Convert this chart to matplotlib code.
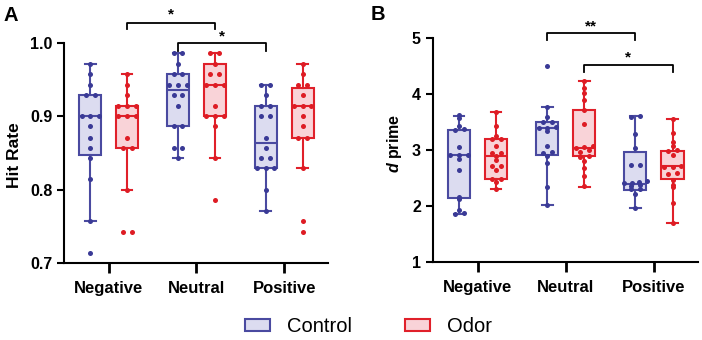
import matplotlib
matplotlib.use('Agg')
import matplotlib.pyplot as plt
from matplotlib.patches import Patch
import numpy as np

plt.rcParams['font.family'] = ['Liberation Sans', 'DejaVu Sans']
plt.rcParams['mathtext.fontset'] = 'custom'
plt.rcParams['mathtext.it'] = 'Liberation Sans:italic:bold'

categories = ['Negative', 'Neutral', 'Positive']
groups = ['Control', 'Odor']

# panel A, hit rate points (order: NegC, NegO, NeuC, NeuO, PosC, PosO)
hit_points = [
    [0.971, 0.957, 0.943, 0.929, 0.929, 0.900, 0.900, 0.900, 0.886, 0.871, 0.857, 0.843, 0.814, 0.757, 0.714],
    [0.957, 0.943, 0.929, 0.914, 0.914, 0.914, 0.900, 0.900, 0.900, 0.871, 0.857, 0.857, 0.800, 0.743, 0.743],
    [0.986, 0.986, 0.971, 0.957, 0.957, 0.943, 0.943, 0.943, 0.929, 0.929, 0.914, 0.886, 0.886, 0.857, 0.857, 0.843],
    [0.986, 0.986, 0.971, 0.957, 0.957, 0.943, 0.943, 0.943, 0.914, 0.900, 0.900, 0.900, 0.886, 0.843, 0.786],
    [0.943, 0.943, 0.929, 0.914, 0.914, 0.900, 0.900, 0.871, 0.857, 0.843, 0.843, 0.829, 0.829, 0.829, 0.800, 0.771],
    [0.971, 0.957, 0.943, 0.943, 0.929, 0.914, 0.914, 0.914, 0.900, 0.886, 0.871, 0.871, 0.829, 0.757, 0.743],
]
hit_q1 = [0.847, 0.857, 0.886, 0.900, 0.829, 0.871]
hit_med = [0.900, 0.900, 0.936, 0.943, 0.864, 0.914]
hit_q3 = [0.929, 0.914, 0.957, 0.971, 0.914, 0.938]
hit_lo = [0.757, 0.800, 0.843, 0.843, 0.771, 0.829]
hit_hi = [0.971, 0.957, 0.986, 0.986, 0.943, 0.971]

# panel B, d prime points
dp_points = [
    [3.62, 3.58, 3.44, 3.38, 3.36, 3.05, 2.92, 2.92, 2.91, 2.85, 2.64, 2.17, 2.12, 1.93, 1.86, 1.87],
    [3.69, 3.43, 3.25, 3.20, 3.20, 3.08, 2.95, 2.95, 2.90, 2.82, 2.72, 2.72, 2.64, 2.49, 2.48, 2.43, 2.30],
    [4.51, 3.77, 3.60, 3.51, 3.50, 3.42, 3.40, 3.40, 3.35, 3.07, 2.96, 2.94, 2.90, 2.77, 2.34, 2.02],
    [4.24, 4.11, 4.03, 3.90, 3.72, 3.47, 3.07, 3.05, 3.04, 3.00, 2.97, 2.89, 2.88, 2.80, 2.68, 2.53, 2.35],
    [3.61, 3.59, 3.29, 3.04, 2.74, 2.73, 2.44, 2.43, 2.42, 2.41, 2.38, 2.36, 2.31, 2.30, 2.21, 1.97],
    [3.56, 3.30, 3.14, 3.07, 3.00, 2.98, 2.92, 2.72, 2.70, 2.70, 2.60, 2.58, 2.47, 2.38, 2.34, 2.05, 1.70],
]
dp_q1 = [2.15, 2.48, 2.91, 2.89, 2.29, 2.48]
dp_med = [2.92, 2.90, 3.40, 3.04, 2.40, 2.71]
dp_q3 = [3.36, 3.20, 3.51, 3.72, 2.96, 2.99]
dp_lo = [1.86, 2.30, 2.02, 2.34, 1.97, 1.69]
dp_hi = [3.61, 3.69, 3.77, 4.24, 3.61, 3.56]

edge = {'Control': '#4a4aa0', 'Odor': '#e0202a'}
fill = {'Control': '#dcdcf0', 'Odor': '#f9d3d8'}
dots = {'Control': '#3a3a96', 'Odor': '#de1c24'}


def swarm(vals, tol, step=0.1, maxw=0.13):
    vals = np.asarray(vals)
    order = np.argsort(vals)
    offs = np.zeros(len(vals))
    clusters = []
    for i in order:
        if clusters and vals[i] - vals[clusters[-1][0]] <= tol:
            clusters[-1].append(i)
        else:
            clusters.append([i])
    for c in clusters:
        k = len(c)
        s = step
        if (k - 1) / 2 * s > maxw:
            s = maxw * 2 / (k - 1)
        for j, i in enumerate(c):
            offs[i] = (j - (k - 1) / 2) * s
    return offs


def panel(ax, points, q1, med, q3, lo, hi, ylim, tol):
    stats = []
    pos = []
    for ci in range(len(categories)):
        for gi, g in enumerate(groups):
            k = ci * 2 + gi
            stats.append(dict(q1=q1[k], med=med[k], q3=q3[k], whislo=lo[k], whishi=hi[k], fliers=[]))
            pos.append(ci + (-0.21 if gi == 0 else 0.21))
    for k, st in enumerate(stats):
        g = groups[k % 2]
        ax.bxp([st], positions=[pos[k]], widths=0.25, capwidths=0.12, patch_artist=True,
               showfliers=False,
               boxprops=dict(facecolor=fill[g], edgecolor=edge[g], linewidth=1.5),
               medianprops=dict(color=edge[g], linewidth=1.5),
               whiskerprops=dict(color=edge[g], linewidth=1.5),
               capprops=dict(color=edge[g], linewidth=1.5))
        offs = swarm(points[k], tol)
        ax.scatter(pos[k] + offs, points[k], s=13, color=dots[g], zorder=3, linewidths=0)
    ax.set_xlim(-0.51, 2.5)
    ax.set_ylim(*ylim)
    ax.set_xticks(range(len(categories)))
    ax.set_xticklabels(categories, fontsize=12, fontweight='bold')
    for sp in ['top', 'right']:
        ax.spines[sp].set_visible(False)
    for sp in ['left', 'bottom']:
        ax.spines[sp].set_linewidth(1.5)
    ax.tick_params(axis='x', length=7, width=2, pad=6)
    ax.tick_params(axis='y', length=5, width=1.5, labelsize=11.5)


def bracket(ax, x0, x1, ytop, ydrop, ystar, label):
    ax.plot([x0, x0, x1, x1], [ytop - ydrop, ytop, ytop, ytop - ydrop], color='black', lw=1.3,
            clip_on=False)
    ax.text((x0 + x1) / 2, ystar, label, ha='center', va='center', fontsize=11, fontweight='bold',
            clip_on=False)


fig = plt.figure(figsize=(7.02, 3.40), dpi=100)
axA = fig.add_axes([0.0912, 0.2256, 0.376, 0.649])
axB = fig.add_axes([0.6164, 0.2294, 0.378, 0.658])

panel(axA, hit_points, hit_q1, hit_med, hit_q3, hit_lo, hit_hi, (0.7, 1.0), 0.004)
axA.set_yticks([0.7, 0.8, 0.9, 1.0])
axA.set_yticklabels(['0.7', '0.8', '0.9', '1.0'], fontweight='bold')
axA.set_ylabel('Hit Rate', fontsize=12.5, fontweight='bold')
axA.yaxis.set_label_coords(-0.16, 0.49)
bracket(axA, 0.21, 1.21, 1.027, 0.009, 1.038, '*')
bracket(axA, 0.79, 1.79, 0.999, 0.01, 1.009, '*')

panel(axB, dp_points, dp_q1, dp_med, dp_q3, dp_lo, dp_hi, (1, 5), 0.03)
axB.set_yticks([1, 2, 3, 4, 5])
axB.set_yticklabels(['1', '2', '3', '4', '5'], fontweight='bold')
axB.set_ylabel(r'$\mathit{d}$ prime', fontsize=11.5, fontweight='bold')
axB.yaxis.set_label_coords(-0.11, 0.53)
bracket(axB, 0.79, 1.79, 5.09, 0.12, 5.22, '**')
bracket(axB, 1.21, 2.21, 4.52, 0.12, 4.65, '*')

fig.text(3 / 702, 1 - 6 / 340, 'A', ha='left', va='top', fontsize=14.5, fontweight='bold')
fig.text(371 / 702, 1 - 4.5 / 340, 'B', ha='left', va='top', fontsize=14.5, fontweight='bold')

handles = [Patch(facecolor=fill[g], edgecolor=edge[g], linewidth=1.5, label=g) for g in groups]
fig.legend(handles=handles, loc='center', bbox_to_anchor=(0.525, 0.04), ncol=2, frameon=False,
           fontsize=14.5, handlelength=1.24, handleheight=0.55, handletextpad=0.85,
           columnspacing=2.6)

fig.savefig('out.png', dpi=100)
